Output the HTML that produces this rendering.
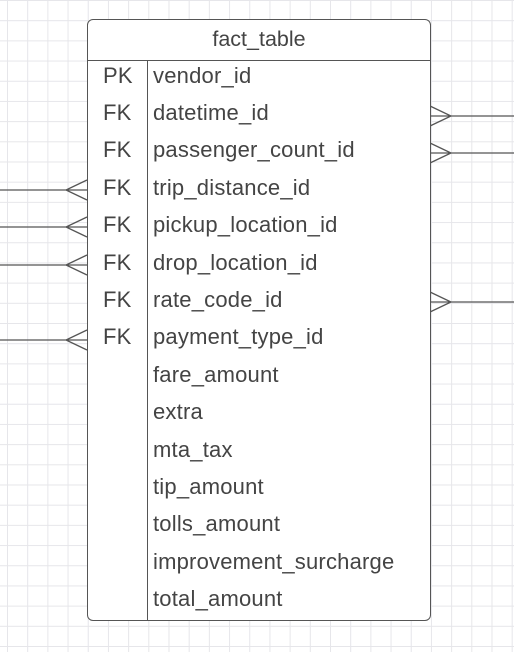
<!DOCTYPE html><html><head><style>
body{margin:0;width:514px;height:652px;overflow:hidden;background:#fff;
background-image:linear-gradient(#e6e6ea 1px,transparent 1px),linear-gradient(90deg,#e6e6ea 1px,transparent 1px);
background-size:20.2px 20.2px;background-position:7px 0px;font-family:"Liberation Sans",sans-serif;color:#444}
.t{position:absolute;left:87px;top:19px;width:342px;height:600px;border:1px solid #555;border-radius:6px;background:#fff}
.h{position:absolute;left:0;top:0;width:342px;height:40px;border-bottom:1px solid #555;text-align:center;line-height:38px;font-size:21.5px}
.d{position:absolute;left:59px;top:41px;width:1px;height:559px;background:#555}
.r{position:absolute;font-size:22px;line-height:24px;letter-spacing:0.2px}
svg{position:absolute;left:0;top:0}
</style></head><body>
<svg width="514" height="652" stroke="#555" stroke-width="1.3" fill="none">
<path d="M430 116H514M430 106L451 116L430 126"/>
<path d="M430 153H514M430 143L451 153L430 163"/>
<path d="M430 302H514M430 292L451 302L430 312"/>
<path d="M0 190H87M87 180L66 190L87 200"/>
<path d="M0 227H87M87 217L66 227L87 237"/>
<path d="M0 265H87M87 255L66 265L87 275"/>
<path d="M0 340H87M87 330L66 340L87 350"/>
</svg>
<div class="t"><div class="h">fact_table</div><div class="d"></div></div>
<div id="rows"></div>
<script>
var k=["PK","FK","FK","FK","FK","FK","FK","FK"];
var n=["vendor_id","datetime_id","passenger_count_id","trip_distance_id","pickup_location_id","drop_location_id","rate_code_id","payment_type_id","fare_amount","extra","mta_tax","tip_amount","tolls_amount","improvement_surcharge","total_amount"];
var h="";for(var i=0;i<n.length;i++){var y=63.5+i*37.4;
if(k[i])h+='<div class="r" style="left:103px;top:'+y+'px">'+k[i]+'</div>';
h+='<div class="r" style="left:153px;top:'+y+'px">'+n[i]+'</div>';}
document.getElementById("rows").innerHTML=h;
</script>
</body></html>
